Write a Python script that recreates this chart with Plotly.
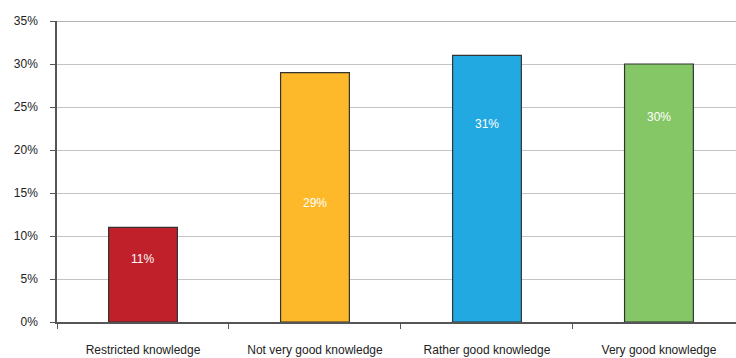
import plotly.graph_objects as go

categories = ["Restricted knowledge", "Not very good knowledge",
              "Rather good knowledge", "Very good knowledge"]
values = [11, 29, 31, 30]
colors = ["#C0202A", "#FDB92A", "#22A9E1", "#85C766"]
# vertical placement of the in-bar labels (in % units)
label_heights = [7.3, 13.8, 23.0, 23.8]
y_max = 35

font_family = "Liberation Sans Narrow, Liberation Sans, Arial, sans-serif"

fig = go.Figure()
fig.add_trace(go.Bar(
    x=categories,
    y=values,
    width=0.4,
    marker=dict(color=colors, line=dict(color="#333333", width=1.2)),
    hoverinfo="skip",
))

for cat, v, h in zip(categories, values, label_heights):
    fig.add_annotation(x=cat, y=h, text=f"{v}%", showarrow=False,
                       font=dict(color="white", size=12, family=font_family))

# top border of the plotting area
fig.add_shape(type="line", xref="paper", x0=0, x1=1, yref="y", y0=y_max, y1=y_max,
              line=dict(color="#9A9A9A", width=1.5), layer="below")

fig.update_layout(
    width=736, height=358,
    margin=dict(l=57, r=0, t=21, b=36),
    paper_bgcolor="white", plot_bgcolor="white",
    showlegend=False,
    font=dict(family=font_family, size=12, color="#222222"),
    bargap=0.6,
)
fig.update_xaxes(
    range=[-0.5, 3.448],
    showline=True, linecolor="#555555", linewidth=1.5,
    ticks="outside", tickson="boundaries", ticklen=5, tickcolor="#555555",
    ticklabelstandoff=16,
    showgrid=False,
    tickfont=dict(size=12),
)
fig.update_yaxes(
    range=[0, y_max], dtick=5, ticksuffix="%",
    showline=True, linecolor="#555555", linewidth=1.5,
    ticks="outside", ticklen=5, tickcolor="#555555",
    ticklabelstandoff=10,
    showgrid=True, gridcolor="#C4C4C4", gridwidth=1,
    zeroline=False,
    tickfont=dict(size=12),
)

fig.write_html("out.html")
